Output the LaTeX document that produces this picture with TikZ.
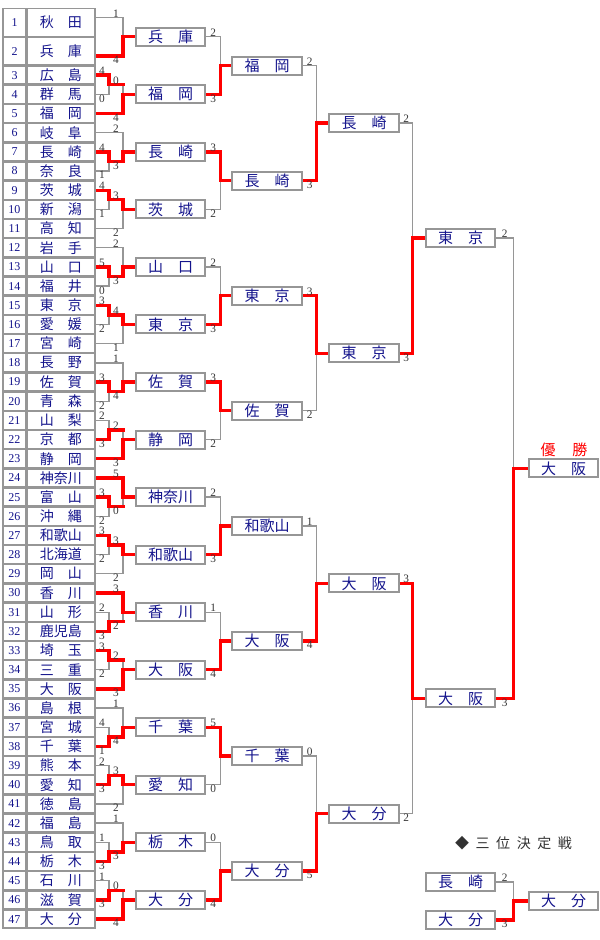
\documentclass[tikz,border=0pt]{standalone}
\usepackage{fontspec}
\setmainfont{Liberation Serif}
\newfontfamily\jp{Noto Sans CJK JP}
\usetikzlibrary{calc,backgrounds}
\definecolor{navy}{RGB}{20,20,140}
\definecolor{lgray}{RGB}{150,150,150}
\definecolor{scgray}{RGB}{55,55,55}
\definecolor{ttl}{RGB}{50,50,50}

% top-inner group: #1 row a, #2 box index, #3 inner winner (1=a,2=b), #4 outer winner (1=inner,2=c), #5..#8 scores
\newcommand{\Tg}[8]{%
 \pgfmathtruncatemacro\gRa{#1}\pgfmathtruncatemacro\gRb{#1+1}\pgfmathtruncatemacro\gRc{#1+2}%
 \pgfmathsetmacro\gKa{2*#1+1}\pgfmathsetmacro\gKb{2*#1+3}\pgfmathsetmacro\gKc{2*#1+5}\pgfmathsetmacro\gKi{2*#1+2}%
 \draw[gl] (m\gRa.east) -- (109,\gKa) -- (109,\gKi) -- (123,\gKi);
 \draw[gl] (m\gRb.east) -- (109,\gKb) -- (109,\gKi);
 \draw[gl] (123,\gKi) -- (123,\gKb) -- (c#2.west);
 \draw[gl] (m\gRc.east) -- (123,\gKc) -- (123,\gKb);
 \ifnum#3=1 \draw[rl] (m\gRa.east) -- (109,\gKa) -- (109,\gKi) -- (123,\gKi);
 \else \draw[rl] (m\gRb.east) -- (109,\gKb) -- (109,\gKi) -- (123,\gKi);\fi
 \ifnum#4=1 \draw[rl] (123,\gKi) -- (123,\gKb) -- (c#2.west);
 \else \draw[rl] (m\gRc.east) -- (123,\gKc) -- (123,\gKb) -- (c#2.west);\fi
 \node[sc,anchor=south] at (102,\gKa) {#5};
 \node[sc,anchor=north] at (102,\gKb) {#6};
 \node[sc,anchor=south] at (116,\gKi) {#7};
 \node[sc,anchor=north] at (116,\gKc) {#8};
}
% bottom-inner group: #1 row a, #2 box index, #3 inner winner (1=b,2=c), #4 outer winner (1=a,2=inner), #5..#8 scores
\newcommand{\Bg}[8]{%
 \pgfmathtruncatemacro\gRa{#1}\pgfmathtruncatemacro\gRb{#1+1}\pgfmathtruncatemacro\gRc{#1+2}%
 \pgfmathsetmacro\gKa{2*#1+1}\pgfmathsetmacro\gKb{2*#1+3}\pgfmathsetmacro\gKc{2*#1+5}\pgfmathsetmacro\gKi{2*#1+4}%
 \draw[gl] (m\gRa.east) -- (123,\gKa) -- (123,\gKb) -- (c#2.west);
 \draw[gl] (m\gRb.east) -- (109,\gKb) -- (109,\gKi) -- (123,\gKi) -- (123,\gKb);
 \draw[gl] (m\gRc.east) -- (109,\gKc) -- (109,\gKi);
 \ifnum#3=1 \draw[rl] (m\gRb.east) -- (109,\gKb) -- (109,\gKi) -- (123,\gKi);
 \else \draw[rl] (m\gRc.east) -- (109,\gKc) -- (109,\gKi) -- (123,\gKi);\fi
 \ifnum#4=1 \draw[rl] (m\gRa.east) -- (123,\gKa) -- (123,\gKb) -- (c#2.west);
 \else \draw[rl] (123,\gKi) -- (123,\gKb) -- (c#2.west);\fi
 \node[sc,anchor=south] at (102,\gKb) {#5};
 \node[sc,anchor=north] at (102,\gKc) {#6};
 \node[sc,anchor=south] at (116,\gKa) {#7};
 \node[sc,anchor=north] at (116,\gKi) {#8};
}
% match between boxes: #1 top, #2 bottom, #3 arm length, #4 target, #5 winner, #6 #7 scores
\newcommand{\Mt}[7]{%
 \draw[gl] (#1.east) -- ++(#3,0) |- (#4.west);
 \draw[gl] (#2.east) -- ++(#3,0) |- (#4.west);
 \ifnum#5=1 \draw[rl] (#1.east) -- ++(#3,0) |- (#4.west);
 \else \draw[rl] (#2.east) -- ++(#3,0) |- (#4.west);\fi
 \node[sc,anchor=south] at ($(#1.east)+(#3/2,0)$) {#6};
 \node[sc,anchor=north] at ($(#2.east)+(#3/2,0)$) {#7};
}

\begin{document}
\begin{tikzpicture}[x=0.75pt,y=-7.1925pt,
  gl/.style={draw=lgray,line width=1pt},
  rl/.style={draw=red,line width=2.5pt,line cap=rect,line join=miter},
  sc/.style={font=\fontsize{8.5}{8.5}\selectfont,text=scgray,inner sep=0.1pt},
  numc/.style={draw=lgray,line width=1pt,fill=white,inner sep=0,minimum width=17.25pt,minimum height=13.5pt,text=navy,font=\fontsize{9}{9}\selectfont},
  namec/.style={draw=lgray,line width=1pt,fill=white,inner sep=0,minimum width=51pt,minimum height=13.5pt,text=navy,font=\jp\fontsize{10.5}{11}\selectfont},
  bx/.style={draw=lgray,line width=1.5pt,fill=white,inner sep=0,minimum width=52pt,minimum height=13.5pt,text=navy,font=\jp\fontsize{11.25}{12}\selectfont}]
\path[use as bounding box] (0,-0.8342) rectangle (600,97.185);

% ---- table ----
\node[numc,minimum height=20.7pt] (n1) at (14.5,1.5) {1};
\node[namec,minimum height=20.7pt] (m1) at (61,1.5) {秋　田};
\node[numc,minimum height=20.7pt] (n2) at (14.5,4.5) {2};
\node[namec,minimum height=20.7pt] (m2) at (61,4.5) {兵　庫};
\foreach \i/\nm in {3/広　島,4/群　馬,5/福　岡,6/岐　阜,7/長　崎,8/奈　良,9/茨　城,10/新　潟,11/高　知,12/岩　手,13/山　口,14/福　井,15/東　京,16/愛　媛,17/宮　崎,18/長　野,19/佐　賀,20/青　森,21/山　梨,22/京　都,23/静　岡,24/神奈川,25/富　山,26/沖　縄,27/和歌山,28/北海道,29/岡　山,30/香　川,31/山　形,32/鹿児島,33/埼　玉,34/三　重,35/大　阪,36/島　根,37/宮　城,38/千　葉,39/熊　本,40/愛　知,41/徳　島,42/福　島,43/鳥　取,44/栃　木,45/石　川,46/滋　賀,47/大　分}{
  \node[numc] (n\i) at (14.5,{2*\i+1}) {\i};
  \node[namec] (m\i) at (61,{2*\i+1}) {\nm};
}

% ---- boxes ----
\foreach \n/\nm in {1/兵　庫,2/福　岡,3/長　崎,4/茨　城,5/山　口,6/東　京,7/佐　賀,8/静　岡,9/神奈川,10/和歌山,11/香　川,12/大　阪,13/千　葉,14/愛　知,15/栃　木,16/大　分}
  \node[bx] (c\n) at (170.5,{6*\n-3}) {\nm};
\foreach \n/\nm in {1/福　岡,2/長　崎,3/東　京,4/佐　賀,5/和歌山,6/大　阪,7/千　葉,8/大　分}
  \node[bx] (d\n) at (267,{12*\n-6}) {\nm};
\foreach \n/\nm in {1/長　崎,2/東　京,3/大　阪,4/大　分}
  \node[bx] (e\n) at (364,{24*\n-12}) {\nm};
\foreach \n/\nm in {1/東　京,2/大　阪}
  \node[bx] (f\n) at (460.5,{48*\n-24}) {\nm};
\node[bx] (g1) at (563.5,48) {大　阪};
\node[text=red,font=\jp\fontsize{11.25}{12}\selectfont,inner sep=0] (win) at (564,46.1) {優\hspace{1.5pt}　勝};

\node[text=ttl,font=\jp\fontsize{10.5}{11}\selectfont,inner sep=0] (third) at (513.5,87.07)
  {◆\hspace{4.9pt}三\hspace{4.9pt}位\hspace{4.9pt}決\hspace{4.9pt}定\hspace{4.9pt}戦};
\node[bx] (t1) at (460.5,91.15) {長　崎};
\node[bx] (t2) at (460.5,95.1) {大　分};
\node[bx] (t3) at (563.5,93.1) {大　分};

% ---- lines ----
\begin{scope}[on background layer]
\fill[white] (0,-0.8342) rectangle (600,97.185);
\draw[gl] ($(m1.east)+(0,-0.5)$) -- (123,1) -- (123,3) -- (c1.west);
\draw[gl] ($(m2.east)+(0,0.5)$) -- (123,5) -- (123,3);
\draw[rl] ($(m2.east)+(0,0.5)$) -- (123,5) -- (123,3) -- (c1.west);
\node[sc,anchor=south] at (116,1) {1};
\node[sc,anchor=north] at (116,5) {4};

\Tg{3}{2}{1}{2}{4}{0}{0}{4}
\Bg{6}{3}{1}{2}{4}{1}{2}{3}
\Tg{9}{4}{1}{1}{4}{1}{3}{2}
\Bg{12}{5}{1}{2}{5}{0}{2}{3}
\Tg{15}{6}{1}{1}{3}{2}{4}{1}
\Bg{18}{7}{1}{2}{3}{2}{1}{4}
\Tg{21}{8}{2}{2}{2}{3}{2}{3}
\Bg{24}{9}{1}{1}{3}{2}{5}{0}
\Tg{27}{10}{1}{1}{3}{2}{3}{2}
\Bg{30}{11}{2}{1}{2}{3}{3}{2}
\Tg{33}{12}{1}{2}{3}{2}{2}{3}
\Bg{36}{13}{2}{2}{4}{1}{1}{4}
\Tg{39}{14}{2}{1}{2}{3}{3}{2}
\Bg{42}{15}{2}{2}{1}{3}{1}{3}
\Tg{45}{16}{2}{2}{1}{3}{0}{4}

\Mt{c1}{c2}{14}{d1}{2}{2}{3}
\Mt{c3}{c4}{14}{d2}{1}{3}{2}
\Mt{c5}{c6}{14}{d3}{2}{2}{3}
\Mt{c7}{c8}{14}{d4}{1}{3}{2}
\Mt{c9}{c10}{14}{d5}{2}{2}{3}
\Mt{c11}{c12}{14}{d6}{2}{1}{4}
\Mt{c13}{c14}{14}{d7}{1}{5}{0}
\Mt{c15}{c16}{14}{d8}{2}{0}{4}
\Mt{d1}{d2}{14}{e1}{2}{2}{3}
\Mt{d3}{d4}{14}{e2}{1}{3}{2}
\Mt{d5}{d6}{14}{e3}{2}{1}{4}
\Mt{d7}{d8}{14}{e4}{2}{0}{5}
\Mt{e1}{e2}{13}{f1}{2}{2}{3}
\Mt{e3}{e4}{13}{f2}{1}{3}{2}
\Mt{f1}{f2}{17}{g1}{2}{2}{3}
\Mt{t1}{t2}{17}{t3}{2}{2}{3}
\end{scope}
\end{tikzpicture}
\end{document}
